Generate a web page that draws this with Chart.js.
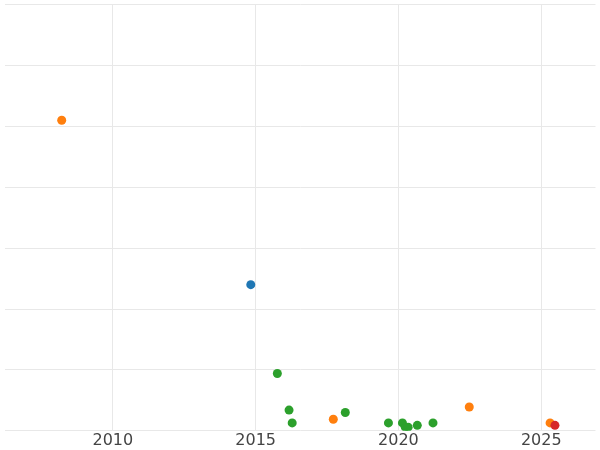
<!DOCTYPE html><html><head><style>body{margin:0;background:#fff}#w{width:600px;height:450px}</style>
<script src="https://cdn.jsdelivr.net/npm/chart.js@4"></script></head><body><div id="w"><canvas id="c"></canvas></div><script>
const orangeX=[2008.21,2017.72,2022.48,2025.31], orangeY=[5.10,0.19,0.39,0.13];
const blueX=[2014.83], blueY=[2.40];
const greenX=[2015.76,2016.17,2016.28,2018.14,2019.65,2020.14,2020.24,2020.34,2020.66,2021.21];
const greenY=[0.94,0.34,0.13,0.30,0.13,0.13,0.06,0.06,0.09,0.13];
const redX=[2025.48], redY=[0.09];
const xTicks=[2010,2015,2020,2025];
const pts=(xs,ys)=>xs.map((x,i)=>({x,y:ys[i]}));
const ds=(xs,ys,c)=>({data:pts(xs,ys),backgroundColor:c,borderWidth:0,pointRadius:4.5});
new Chart(document.getElementById('c'),{type:'scatter',data:{datasets:[
ds(redX,redY,'#d62728'),ds(blueX,blueY,'#1f77b4'),ds(greenX,greenY,'#2ca02c'),ds(orangeX,orangeY,'#ff7f0e')]},
options:{responsive:true,maintainAspectRatio:false,animation:false,layout:{padding:{left:-5,right:-5,top:-42,bottom:0}},
plugins:{legend:{display:false},tooltip:{enabled:false}},
scales:{x:{type:'linear',min:2006.207,max:2026.9,afterBuildTicks:a=>{a.ticks=xTicks.map(v=>({value:v}))},
ticks:{font:{family:'DejaVu Sans',size:16},color:'#444',padding:0,maxRotation:0,callback:v=>String(v)},grid:{color:'#e8e8e8',drawTicks:false},border:{display:false}},
y:{min:0,max:7,ticks:{display:false,stepSize:1},grid:{color:'#e8e8e8',drawTicks:false},border:{display:false}}}}});
</script></body></html>
